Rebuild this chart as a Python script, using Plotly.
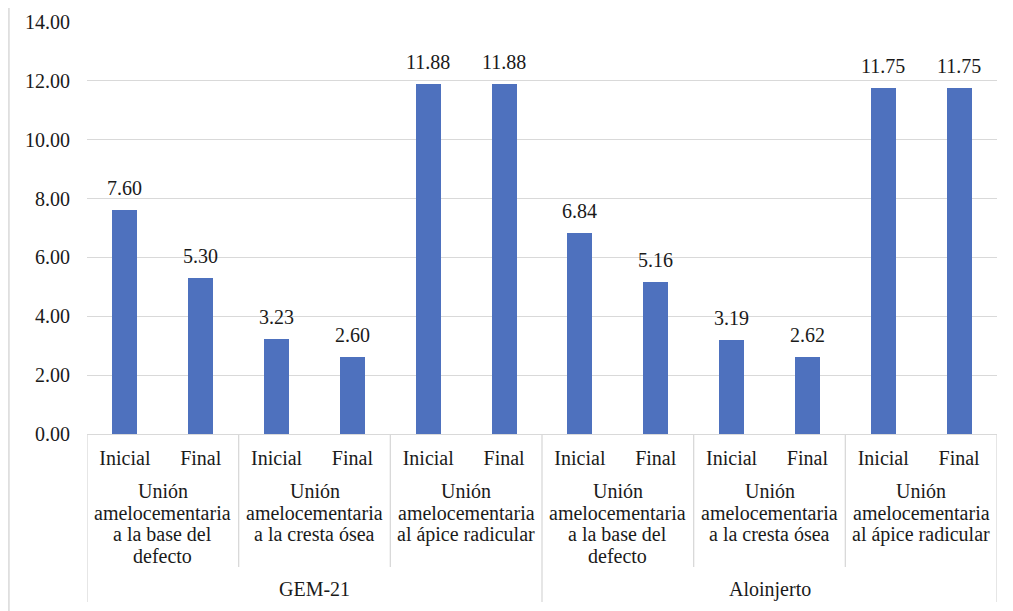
import plotly.graph_objects as go

# ---- data ----
groups = ["GEM-21", "Aloinjerto"]
measures = [
    ["Unión", "amelocementaria", "a la base del", "defecto"],
    ["Unión", "amelocementaria", "a la cresta ósea"],
    ["Unión", "amelocementaria", "al ápice radicular"],
]
stages = ["Inicial", "Final"]
values = [7.60, 5.30, 3.23, 2.60, 11.88, 11.88,
          6.84, 5.16, 3.19, 2.62, 11.75, 11.75]
y_ticks = [0, 2, 4, 6, 8, 10, 12, 14]

FONT = "Liberation Serif, Times New Roman, DejaVu Serif, serif"
BAR = "#4E71BE"
GRID = "#D9D9D9"
TXT = "#1a1a1a"

n_meas = len(measures)
n_stage = len(stages)
x_idx = list(range(len(values)))
x_labels = [stages[i % n_stage] for i in x_idx]

fig = go.Figure()
fig.add_trace(go.Bar(
    x=x_idx, y=values, width=0.33,
    marker=dict(color=BAR, line=dict(width=0)),
    showlegend=False, hoverinfo="x+y",
))

annotations = []
shapes = []

# value labels above bars
for xi, v in zip(x_idx, values):
    annotations.append(dict(
        x=xi, y=v, xref="x", yref="y", text=f"{v:.2f}", showarrow=False,
        yanchor="bottom", yshift=9,
        font=dict(family=FONT, size=20, color=TXT)))

# second-level (measure) labels and inner separators
for g in range(len(groups)):
    for m in range(n_meas):
        start = (g * n_meas + m) * n_stage
        cx = start + (n_stage - 1) / 2
        for li, line in enumerate(measures[m]):
            annotations.append(dict(
                x=cx, y=0, xref="x", yref="paper", text=line, showarrow=False,
                yanchor="middle", yshift=-(57 + 21.5 * li),
                font=dict(family=FONT, size=20, color=TXT)))
        if m > 0:
            shapes.append(dict(type="line", xref="x", yref="paper",
                               x0=start - 0.5, x1=start - 0.5,
                               ysizemode="pixel", yanchor=0, y0=0, y1=-133,
                               line=dict(color=GRID, width=1.3)))
    # third-level (group) labels
    gs = g * n_meas * n_stage
    gcx = gs + (n_meas * n_stage - 1) / 2
    annotations.append(dict(
        x=gcx, y=0, xref="x", yref="paper", text=groups[g], showarrow=False,
        yanchor="middle", yshift=-155,
        font=dict(family=FONT, size=20, color=TXT)))

# outer separators (group edges)
for b in range(len(groups) + 1):
    xb = b * n_meas * n_stage - 0.5
    shapes.append(dict(type="line", xref="x", yref="paper",
                       x0=xb, x1=xb, ysizemode="pixel", yanchor=0, y0=0, y1=-168,
                       line=dict(color=GRID, width=1.3)))

# left chart-area border
shapes.append(dict(type="line", xref="paper", yref="paper",
                   x0=-0.0858, x1=-0.0858, y0=1.04, y1=-0.43,
                   line=dict(color=GRID, width=1.5)))

fig.update_layout(
    width=1005, height=603,
    margin=dict(l=79, r=16, t=14, b=177, autoexpand=False),
    paper_bgcolor="white", plot_bgcolor="white",
    font=dict(family=FONT, size=20, color=TXT),
    annotations=annotations, shapes=shapes,
    bargap=0,
    xaxis=dict(
        range=[-0.5, len(values) - 0.5], tickmode="array", automargin=False,
        tickvals=x_idx, ticktext=x_labels, ticks="", showgrid=False,
        showline=True, linecolor=GRID, linewidth=1.3, zeroline=False,
        tickfont=dict(family=FONT, size=20, color=TXT), ticklabelstandoff=6,
    ),
    yaxis=dict(
        range=[0, 14], tickmode="array", tickvals=y_ticks, automargin=False,
        ticktext=[f"{v:.2f}" for v in y_ticks],
        showgrid=True, gridcolor=GRID, gridwidth=1.3,
        zeroline=False, showline=False, ticks="",
        tickfont=dict(family=FONT, size=20, color=TXT), ticklabelstandoff=16,
    ),
)

fig.write_html("out.html")
